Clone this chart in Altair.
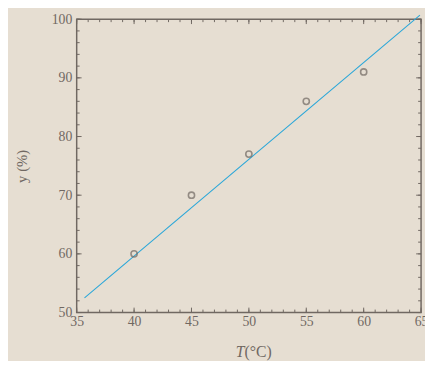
import altair as alt
import pandas as pd

temps = [40, 45, 50, 55, 60]
yields = [60, 70, 77, 86, 91]
fit_x = [35.68, 64.9]
fit_y = [52.5, 100.7]
x_ticks = [35, 40, 45, 50, 55, 60, 65]
y_ticks = [50, 60, 70, 80, 90, 100]
x_minor = list(range(35, 66, 1))
y_minor = list(range(50, 101, 2))
x_title_italic = ["T"]
x_title_rest = ["(°C)"]

W, H = 351, 299
BG = "#e6ded2"
INK = "#706862"
FONT = "Liberation Serif"

xs = alt.Scale(domain=[35, 65], nice=False, zero=False)
ys = alt.Scale(domain=[50, 100], nice=False, zero=False)

xaxis = alt.Axis(values=x_ticks, title=None, ticks=False, domain=False, grid=False,
                 labelPadding=2, labelFlush=False, labelOverlap=False)
yaxis = alt.Axis(values=y_ticks, title="y (%)", ticks=False, domain=False, grid=False,
                 labelPadding=5, labelFlush=False, labelOverlap=False,
                 titlePadding=22, titleFontSize=15,
                 titleFontWeight="normal", titleFont=FONT)

pts = pd.DataFrame({"T": temps, "y": yields})
fit = pd.DataFrame({"T": fit_x, "y": fit_y})
xm = pd.DataFrame({"T": x_minor})
ym = pd.DataFrame({"y": y_minor})
xmaj = pd.DataFrame({"T": x_ticks})
ymaj = pd.DataFrame({"y": y_ticks})

line = alt.Chart(fit).mark_line(color="#2aa7d9", strokeWidth=1.1).encode(
    x=alt.X("T:Q", scale=xs, axis=xaxis),
    y=alt.Y("y:Q", scale=ys, axis=yaxis),
)

points = alt.Chart(pts).mark_point(shape="circle", filled=False, color=INK, size=40, strokeWidth=1.6).encode(
    x=alt.X("T:Q", scale=xs, axis=xaxis),
    y=alt.Y("y:Q", scale=ys, axis=yaxis),
)

def xtick(y0, y1, data):
    return alt.Chart(data).mark_rule(color=INK, strokeWidth=1).encode(
        x=alt.X("T:Q", scale=xs, axis=xaxis), y=alt.value(y0), y2=alt.value(y1))

def ytick(x0, x1, data):
    return alt.Chart(data).mark_rule(color=INK, strokeWidth=1).encode(
        y=alt.Y("y:Q", scale=ys, axis=yaxis), x=alt.value(x0), x2=alt.value(x1))

ticks = [
    xtick(H, H - 3, xm), xtick(0, 3, xm),
    ytick(0, 3, ym), ytick(W, W - 3, ym),
    xtick(H, H - 5, xmaj), xtick(0, 5, xmaj),
    ytick(0, 5, ymaj), ytick(W, W - 5, ymaj),
]

t1 = alt.Chart(pd.DataFrame({"s": x_title_italic})).mark_text(
    font=FONT, fontSize=16, fontStyle="italic", color=INK, align="right", baseline="alphabetic"
).encode(text="s:N", x=alt.value(171), y=alt.value(344))
t2 = alt.Chart(pd.DataFrame({"s": x_title_rest})).mark_text(
    font=FONT, fontSize=16, color=INK, align="left", baseline="alphabetic"
).encode(text="s:N", x=alt.value(171), y=alt.value(344))

chart = alt.layer(line, points, *ticks, t1, t2).properties(
    width=W, height=H,
    background=BG,
    autosize=alt.AutoSizeParams(type="none"),
    padding={"left": 70, "top": 8, "right": 4, "bottom": 46},
).configure_view(stroke=INK, strokeWidth=1.5).configure_axis(
    labelFont=FONT, labelFontSize=14, labelColor=INK, titleColor=INK,
).configure_axisY(labelBaseline="middle")

chart.save("out.html", embed_options={"renderer": "svg", "actions": False})
